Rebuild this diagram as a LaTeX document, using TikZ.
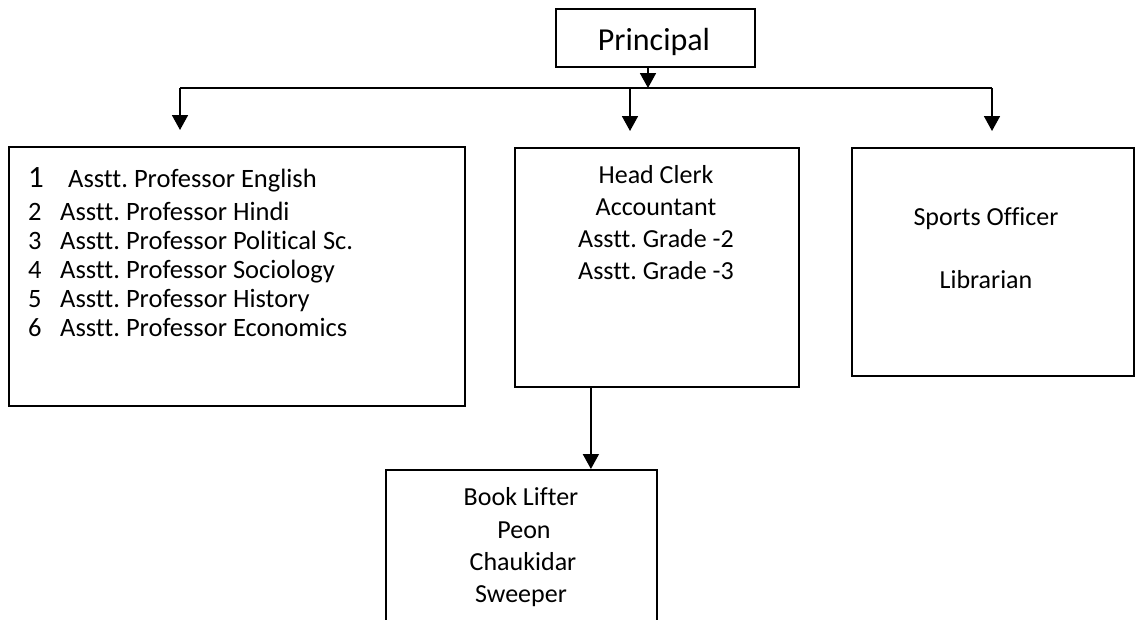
\documentclass[tikz,border=0pt]{standalone}
\usepackage{fontspec}
\setmainfont{Carlito}[Ligatures=NoCommon]
\usetikzlibrary{arrows.meta}
\frenchspacing

\tikzset{
  box/.style={draw, line width=1.8pt, anchor=north west, inner sep=0pt},
  link/.style={line width=1.8pt},
  flow/.style={line width=1.8pt, -{Triangle[width=16pt,length=15pt]}},
  entry/.style={anchor=base, inner sep=0pt, font=\fontsize{26}{31}\selectfont},
  item/.style={anchor=base west, inner sep=0pt, font=\fontsize{26.5}{31}\selectfont}
}

\begin{document}
\begin{tikzpicture}[x=1pt,y=-1pt]
    \useasboundingbox (0,0) rectangle (1135,619);
    \clip (0,0) rectangle (1135,619);

    % boxes
    \node[box, minimum width=199pt, minimum height=58pt] (principal) at (555,8) {};
    \node[box, minimum width=456pt, minimum height=259pt] (staff) at (8,146) {};
    \node[box, minimum width=284pt, minimum height=239pt] (office) at (514,147) {};
    \node[box, minimum width=282pt, minimum height=228pt] (sports) at (851,147) {};
    \node[box, minimum width=271pt, minimum height=231pt] (class4) at (385,469) {};

    % connectors
    \coordinate (busP) at (648,88);
    \coordinate (busL) at (180,88);
    \coordinate (busM) at (630,88);
    \coordinate (busR) at (992,88);
    \draw[flow] (principal.south -| busP) -- (busP);
    \draw[link] (busL) -- (busR);
    \foreach \b/\n in {busL/staff, busM/office, busR/sports}
        \draw[flow] (\b) -- ([yshift=16pt]\n.north -| \b);
    \draw[flow] ([xshift=-66pt]office.south) -- ([xshift=-66pt]office.south |- class4.north);

    % texts
    \node[anchor=base, inner sep=0pt, font=\fontsize{32}{38}\selectfont] (principalname) at (654,50) {Principal};

    \node[item, font=\fontsize{31}{36}\selectfont] (num1) at (28,187) {1};
    \node[item] (prof1) at (68,187) {Asstt. Professor English};
    \foreach \i/\s/\y in {2/Hindi/220, 3/Political Sc./249, 4/Sociology/278, 5/History/307, 6/Economics/336} {
        \node[item] (num\i) at (28,\y) {\i};
        \node[item] (prof\i) at (60,\y) {Asstt. Professor \s};
    }

    \node[entry] (headclerk) at (656,183) {Head Clerk};
    \node[entry] (accountant) at (656,215) {Accountant};
    \node[entry] (gradetwo) at (656,247) {Asstt. Grade -2};
    \node[entry] (gradethree) at (656,279) {Asstt. Grade -3};

    \node[entry] (sportsofficer) at (986,225) {Sports Officer};
    \node[entry] (librarian) at (986,288) {Librarian};

    \node[entry] (booklifter) at (521,505) {Book Lifter};
    \node[entry] (peon) at (524,538) {Peon};
    \node[entry] (chaukidar) at (523,570) {Chaukidar};
    \node[entry] (sweeper) at (521,602) {Sweeper};
\end{tikzpicture}
\end{document}
